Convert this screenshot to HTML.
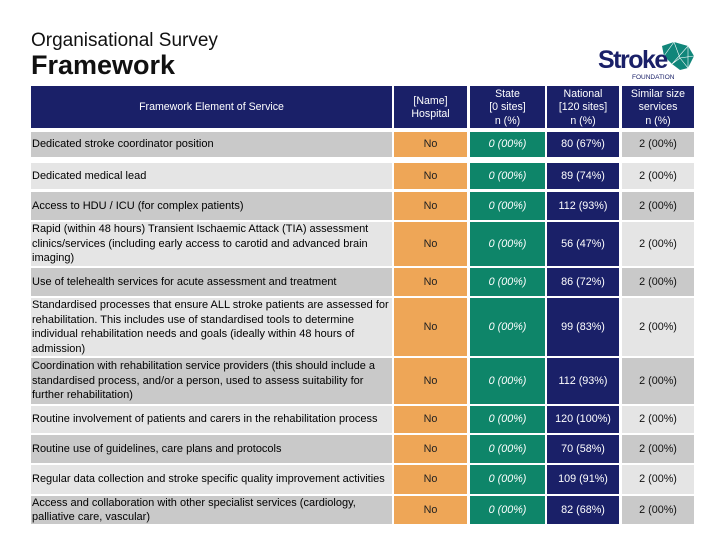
<!DOCTYPE html>
<html><head><meta charset="utf-8">
<style>
body{margin:0;width:720px;height:540px;background:#fff;position:relative;overflow:hidden;font-family:"Liberation Sans",sans-serif;}
.c{position:absolute;display:flex;align-items:center;font-size:11px;line-height:14.5px;box-sizing:border-box;letter-spacing:0;white-space:nowrap}
.h{background:#1a2068;color:#fff;justify-content:center;text-align:center;font-size:10.6px;line-height:13.5px;padding-top:2px}
.l{padding-left:1px}
.o{background:#eea657;color:#222;justify-content:center;font-size:10.8px}
.g{background:#0e8569;color:#fff;justify-content:center;font-style:italic;font-size:10.8px}
.n{background:#1a2068;color:#fff;justify-content:center;font-size:10.8px}
.s{color:#111;justify-content:center;font-size:10.8px}
.d{background:#c9c9c9}.e{background:#e5e5e5}
</style></head><body>
<div style="position:absolute;left:31px;top:30px;font-size:19px;color:#111">Organisational Survey</div>
<div style="position:absolute;left:31px;top:50px;font-size:27px;font-weight:bold;color:#111">Framework</div>
<div style="position:absolute;left:596px;top:40px;width:100px;height:42px">
<svg width="100" height="42" viewBox="0 0 100 42" style="position:absolute;left:0;top:0"><polygon points="66,6 78,2 92,6 98,16 92,28 84,30 76,24 68,16" fill="#11867a"/><polyline points="68,16 78,2 84,18 76,24 92,6 92,28 84,18 98,16" fill="none" stroke="#fff" stroke-width="0.6"/></svg>
<div style="position:absolute;left:2px;top:6px;font-size:25px;font-weight:bold;color:#1a2068;letter-spacing:-1.5px">Stroke</div>
<div style="position:absolute;left:36px;top:34px;font-size:6.5px;color:#1a2068">FOUNDATION</div>
</div>
<div id="t"></div>
<script>
const rows=[
["Dedicated stroke coordinator position","80 (67%)",132,157],
["Dedicated medical lead","89 (74%)",163,189],
["Access to HDU / ICU (for complex patients)","112 (93%)",192,220],
["Rapid (within 48 hours) Transient Ischaemic Attack (TIA) assessment<br>clinics/services (including early access to carotid and advanced brain<br>imaging)","56 (47%)",222,266],
["Use of telehealth services for acute assessment and treatment","86 (72%)",268,296],
["Standardised processes that ensure ALL stroke patients are assessed for<br>rehabilitation. This includes use of standardised tools to determine<br>individual rehabilitation needs and goals (ideally within 48 hours of<br>admission)","99 (83%)",298,356],
["Coordination with rehabilitation service providers (this should include a<br>standardised process, and/or a person, used to assess suitability for<br>further rehabilitation)","112 (93%)",358,404],
["Routine involvement of patients and carers in the rehabilitation process","120 (100%)",406,433],
["Routine use of guidelines, care plans and protocols","70 (58%)",435,463],
["Regular data collection and stroke specific quality improvement activities","109 (91%)",465,494],
["Access and collaboration with other specialist services (cardiology,<br>palliative care, vascular)","82 (68%)",496,524]];
const cols=[[31,392],[394,467],[470,545],[547,619],[622,694]];
const heads=["Framework Element of Service","[Name]<br>Hospital","State<br>[0 sites]<br>n (%)","National<br>[120 sites]<br>n (%)","Similar size<br>services<br>n (%)"];
const t=document.getElementById('t');
function cell(cls,x0,x1,y0,y1,html){const d=document.createElement('div');d.className='c '+cls;d.style.left=x0+'px';d.style.width=(x1-x0)+'px';d.style.top=y0+'px';d.style.height=(y1-y0)+'px';d.innerHTML=html;t.appendChild(d);return d;}
heads.forEach((h,i)=>{const d=cell('h',cols[i][0],cols[i][1],86,128,h);

});
rows.forEach((r,i)=>{const sh=i%2?'e':'d';const y0=r[2],y1=r[3];
const a=cell('l '+sh,cols[0][0],cols[0][1],y0,y1,r[0]);


const b=cell('o',cols[1][0],cols[1][1],y0,y1,'No');


const c=cell('g',cols[2][0],cols[2][1],y0,y1,'0 (00%)');


const n=cell('n',cols[3][0],cols[3][1],y0,y1,r[1]);


const s=cell('s '+sh,cols[4][0],cols[4][1],y0,y1,'2 (00%)');

});
</script>
</body></html>
